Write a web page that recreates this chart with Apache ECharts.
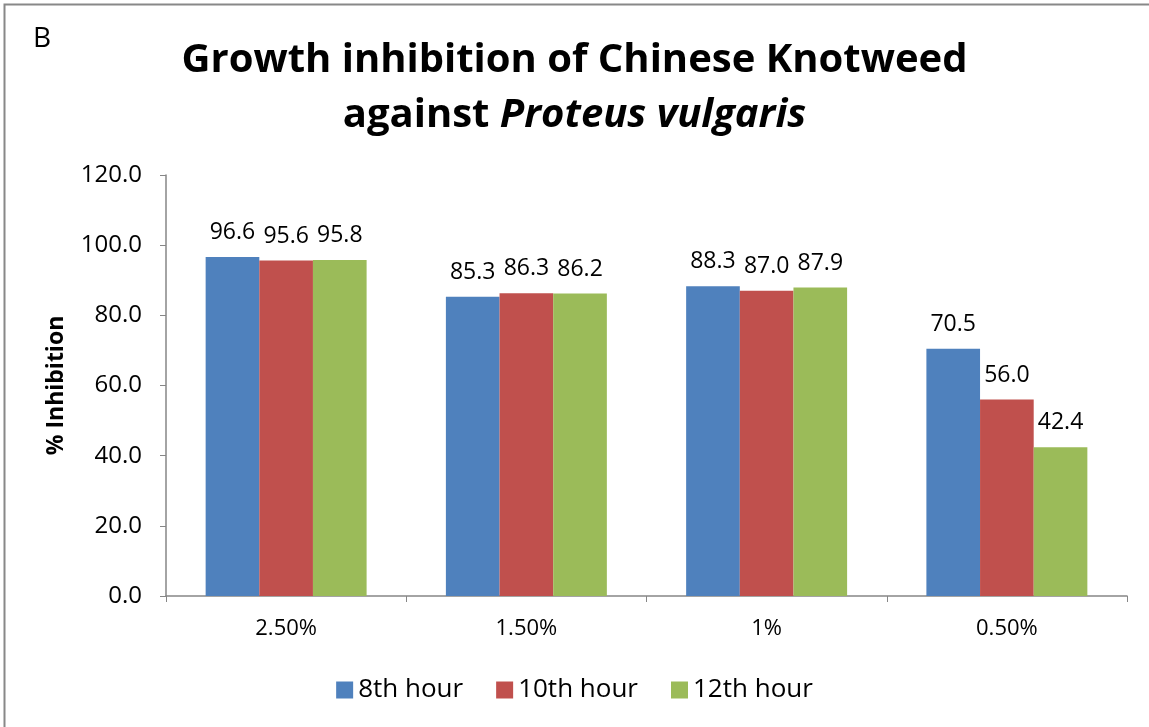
<!DOCTYPE html>
<html>
<head>
<meta charset="utf-8">
<script src="https://cdn.jsdelivr.net/npm/echarts@6/dist/echarts.min.js"></script>
<style>
  html, body { margin: 0; padding: 0; background: #fff; }
  #chart { width: 1149px; height: 727px; }
</style>
</head>
<body>
<div id="chart"></div>
<script>
const categories = ['2.50%', '1.50%', '1%', '0.50%']
const hour8 = [96.6, 85.3, 88.3, 70.5]
const hour10 = [95.6, 86.3, 87.0, 56.0]
const hour12 = [95.8, 86.2, 87.9, 42.4]
const seriesNames = ['8th hour', '10th hour', '12th hour']
const colors = ['#4f81bd', '#c0504d', '#9bbb59']

const font = '"Open Sans", "Noto Sans", sans-serif'

const makeSeries = (name, data, color) => ({
  name,
  type: 'bar',
  data,
  barGap: '0%',
  barCategoryGap: '33%',
  itemStyle: { color },
  label: {
    show: true,
    position: 'top',
    distance: 13,
    color: '#000',
    fontFamily: font,
    fontSize: 23,
    formatter: p => p.value.toFixed(1)
  }
})

const option = {
  animation: false,
  backgroundColor: '#fff',
  textStyle: { fontFamily: font },
  title: {
    text: 'Growth inhibition of Chinese Knotweed\n{i|against }{it|Proteus vulgaris}',
    left: 'center',
    top: 28,
    textStyle: {
      fontFamily: font,
      fontWeight: 'bold',
      fontSize: 40,
      color: '#000',
      lineHeight: 55,
      rich: {
        i: { fontFamily: font, fontWeight: 'bold', fontSize: 40, color: '#000', lineHeight: 55 },
        it: { fontFamily: font, fontWeight: 'bold', fontStyle: 'italic', fontSize: 40, color: '#000', lineHeight: 55 }
      }
    }
  },
  graphic: [
    {
      type: 'rect',
      shape: { x: 4.5, y: 4.5, width: 1160, height: 740 },
      style: { fill: 'none', stroke: '#888', lineWidth: 2 },
      silent: true
    },
    {
      type: 'text',
      left: 33,
      top: 25,
      style: { text: 'B', fontFamily: font, fontSize: 28, fill: '#000' }
    }
  ],
  legend: {
    data: seriesNames,
    bottom: 19,
    left: 'center',
    itemWidth: 17,
    itemHeight: 17,
    itemGap: 33,
    icon: 'rect',
    textStyle: { fontFamily: font, fontSize: 26, color: '#000' }
  },
  grid: { left: 166, right: 22, top: 175, bottom: 131 },
  xAxis: {
    type: 'category',
    data: categories,
    axisLine: { lineStyle: { color: '#868686', width: 1.5 } },
    axisTick: { show: true, length: 6, alignWithLabel: false, lineStyle: { color: '#868686' } },
    axisLabel: { color: '#000', fontFamily: font, fontSize: 22, margin: 22 }
  },
  yAxis: {
    type: 'value',
    min: 0,
    max: 120,
    interval: 20,
    name: '% Inhibition',
    nameLocation: 'middle',
    nameGap: 98,
    nameTextStyle: { fontFamily: font, fontWeight: 'bold', fontSize: 23, color: '#000' },
    axisLine: { show: true, lineStyle: { color: '#868686', width: 1.5 } },
    axisTick: { show: true, length: 6, lineStyle: { color: '#868686' } },
    splitLine: { show: false },
    axisLabel: {
      color: '#000',
      fontFamily: font,
      fontSize: 24,
      margin: 24,
      formatter: v => v.toFixed(1)
    }
  },
  series: [
    makeSeries(seriesNames[0], hour8, colors[0]),
    makeSeries(seriesNames[1], hour10, colors[1]),
    makeSeries(seriesNames[2], hour12, colors[2])
  ]
}

const chart = echarts.init(document.getElementById('chart'))
chart.setOption(option)
</script>
</body>
</html>
